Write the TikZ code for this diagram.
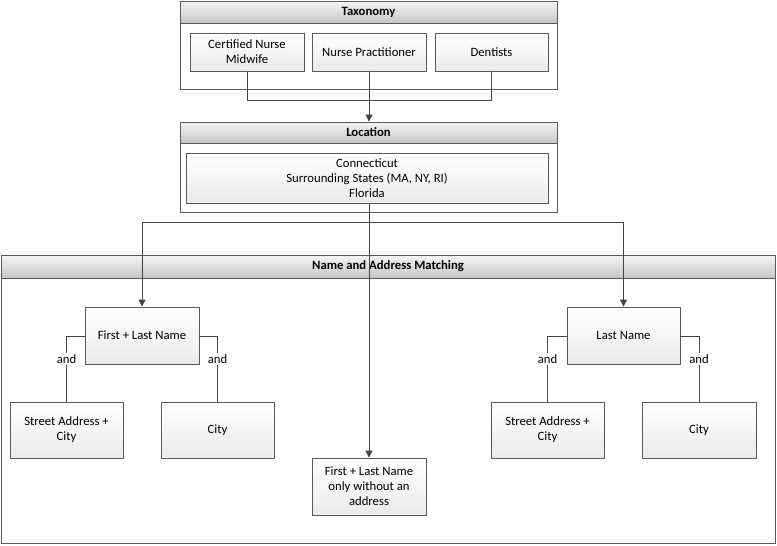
\documentclass[tikz,border=0pt]{standalone}
\usepackage{fontspec}
\setmainfont{Carlito}
\usetikzlibrary{shadows,arrows.meta}
\definecolor{edge}{HTML}{5A5A5A}
\definecolor{wire}{HTML}{444444}
\tikzset{
  box/.style={draw=edge, line width=0.8pt, top color=white, bottom color=gray!16,
    align=center, font=\fontsize{12.7}{15}\selectfont, inner sep=2pt,
    drop shadow={shadow xshift=1.2pt, shadow yshift=-1.2pt, fill=gray!60, opacity=0.5}},
  container/.style={draw=edge, line width=0.9pt, fill=white, inner sep=0pt},
  header/.style={draw=edge, line width=0.9pt, top color=gray!8, bottom color=gray!45,
    font=\fontsize{12.7}{14}\selectfont\bfseries, inner sep=0pt},
  wireline/.style={draw=wire, line width=0.9pt},
  arr/.style={wireline, -{Triangle[length=7pt,width=7pt]}},
  andlbl/.style={fill=white, inner sep=1.5pt, font=\fontsize{12.7}{14}\selectfont}
}
\begin{document}
\begin{tikzpicture}[x=1pt,y=-1pt]
\useasboundingbox (0,0) rectangle (777,546);
% Taxonomy
\node[container, minimum width=377pt, minimum height=88pt] (tax) at (368.5,45) {};
\node[header, minimum width=377pt, minimum height=22pt] (taxh) at (368.5,12) {Taxonomy};
\node[box, minimum width=114pt, minimum height=38pt] (cnm) at (247,52) {Certified Nurse\\Midwife};
\node[box, minimum width=114pt, minimum height=38pt] (np) at (369,52) {Nurse Practitioner};
\node[box, minimum width=113pt, minimum height=38pt] (den) at (491.5,52) {Dentists};
% Location
\node[container, minimum width=377pt, minimum height=90pt] (loc) at (368.5,167) {};
\node[header, minimum width=377pt, minimum height=21pt] (loch) at (368.5,132.5) {Location};
\node[box, minimum width=362pt, minimum height=50pt] (locin) at (367,178) {Connecticut\\Surrounding States (MA, NY, RI)\\Florida};
% Name and Address Matching
\node[container, minimum width=774pt, minimum height=288pt] (nam) at (388,399) {};
\node[header, minimum width=774pt, minimum height=23pt] (namh) at (388,266.5) {Name and Address Matching};
\node[box, minimum width=114pt, minimum height=57pt] (fl) at (142,335.5) {First + Last Name};
\node[box, minimum width=113pt, minimum height=57pt] (ln) at (623.5,335.5) {Last Name};
\node[box, minimum width=113pt, minimum height=56pt] (sa1) at (66.5,430) {Street Address +\\City};
\node[box, minimum width=113pt, minimum height=56pt] (city1) at (217.5,430) {City};
\node[box, minimum width=114pt, minimum height=57pt] (flo) at (369,486.5) {First + Last Name\\only without an\\address};
\node[box, minimum width=113pt, minimum height=56pt] (sa2) at (547.5,430) {Street Address +\\City};
\node[box, minimum width=114pt, minimum height=56pt] (city2) at (699,430) {City};
% connectors taxonomy
\coordinate (tb) at (369,100);
\draw[wireline] (cnm.south) -- (cnm.south |- tb) -- (den.south |- tb) -- (den.south);
\draw[arr] (np.south) -- (loch.north -| np.south);
% location to matching
\coordinate (hub) at (369,222);
\draw[arr] (locin.south -| flo.north) -- (flo.north);
\draw[arr] (hub) -| (fl.north);
\draw[arr] (hub) -| (ln.north);
% and links
\draw[wireline] (fl.west |- 0,336) -| (sa1.north) node[andlbl, pos=0.675] {and};
\draw[wireline] (fl.east |- 0,336) -| (city1.north) node[andlbl, pos=0.675] {and};
\draw[wireline] (ln.west |- 0,336) -| (sa2.north) node[andlbl, pos=0.675] {and};
\draw[wireline] (ln.east |- 0,336) -| (city2.north) node[andlbl, pos=0.675] {and};
\end{tikzpicture}
\end{document}
